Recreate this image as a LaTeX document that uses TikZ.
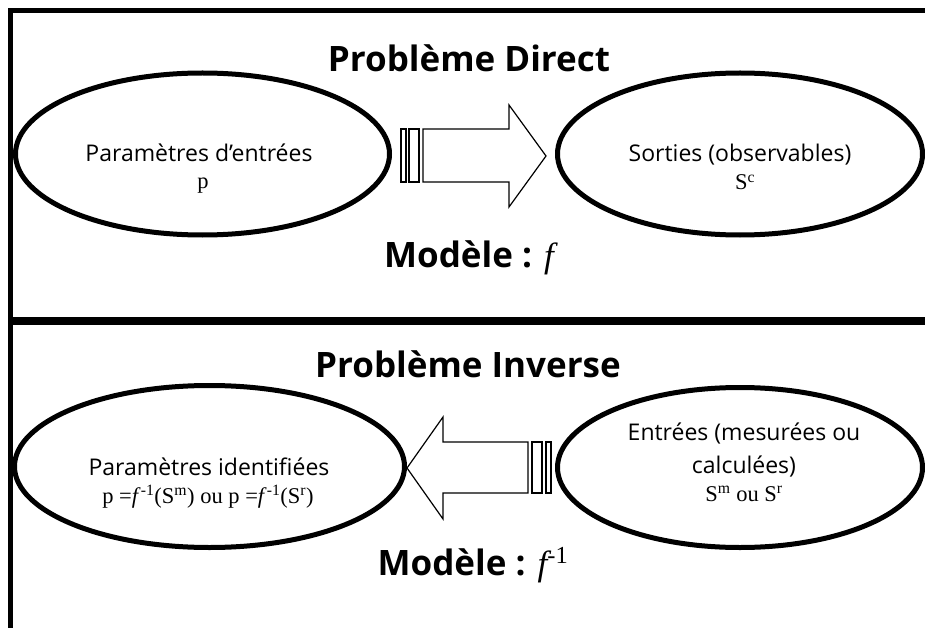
\documentclass[tikz,border=0pt]{standalone}
\usepackage{fontspec}
\setmainfont{Liberation Serif}
\newfontfamily\sansf{Open Sans}
\begin{document}
\begin{tikzpicture}[x=1pt,y=-1pt,
  frame/.style={line width=5pt},
  sep/.style={line width=8pt},
  oval/.style={draw,line width=5pt},
  blockarrow/.style={draw,line width=1.2pt,line join=miter},
  title/.style={anchor=base,inner sep=0pt,font=\sansf\bfseries\fontsize{35}{42}\selectfont},
  lab/.style={anchor=base,inner sep=0pt,font=\sansf\fontsize{23}{28}\selectfont},
  math/.style={anchor=base,inner sep=0pt,font=\fontsize{22.5}{27}\selectfont}]
\useasboundingbox (0,0) rectangle (925,628);
% frame
\draw[frame] (10.5,11) -- (935,11);
\draw[frame] (10.5,8.5) -- (10.5,640);
\draw[sep] (8,321) -- (935,321);
% ellipses
\draw[oval] (202.5,154) ellipse [x radius=187, y radius=81];
\draw[oval] (740,154) ellipse [x radius=182.5, y radius=81];
\draw[oval] (209.5,466.5) ellipse [x radius=195, y radius=81];
\draw[oval] (740,467.5) ellipse [x radius=182.5, y radius=80];
% top arrow
\draw[blockarrow] (401,129) rectangle (406,182);
\draw[blockarrow] (409,129) rectangle (419,182);
\draw[blockarrow] (423,129) -- (509,129) -- (509,105) -- (546,156) -- (509,207) -- (509,182) -- (423,182) -- cycle;
% bottom arrow
\draw[blockarrow] (551,442) rectangle (546,493);
\draw[blockarrow] (542,442) rectangle (532,493);
\draw[blockarrow] (528,442) -- (443,442) -- (443,417) -- (407,468) -- (443,519) -- (443,493) -- (528,493) -- cycle;
% texts top
\node[title] (t1) at (469,72) {Problème Direct};
\node[lab] (a1) at (199,162) {Paramètres d’entrées};
\node[math] (a2) at (203,189) {p};
\node[lab] (b1) at (740,162) {Sorties (observables)};
\node[math] (b2) at (745,190) {S\textsuperscript{c}};
\node[title] (m1) at (469,267) {Modèle : {\rmfamily\mdseries\itshape\fontsize{35}{42}\selectfont f}};
% texts bottom
\node[title] (t2) at (468,377) {Problème Inverse};
\node[lab] (c1) at (209,475) {Paramètres identifiées};
\node[math] (c2) at (208,503) {p =\textit{f}\textsuperscript{-1}(S\textsuperscript{m}) ou p =\textit{f}\textsuperscript{-1}(S\textsuperscript{r})};
\node[lab] (d1) at (744,440) {Entrées (mesurées ou};
\node[lab] (d2) at (744,473) {calculées)};
\node[math] (d3) at (744,501) {S\textsuperscript{m} ou S\textsuperscript{r}};
\node[title] (m2) at (473,575) {Modèle : {\rmfamily\mdseries\itshape\fontsize{35}{42}\selectfont f}{\rmfamily\mdseries\fontsize{35}{42}\selectfont\raisebox{2pt}{\textsuperscript{-1}}}};
\end{tikzpicture}
\end{document}
